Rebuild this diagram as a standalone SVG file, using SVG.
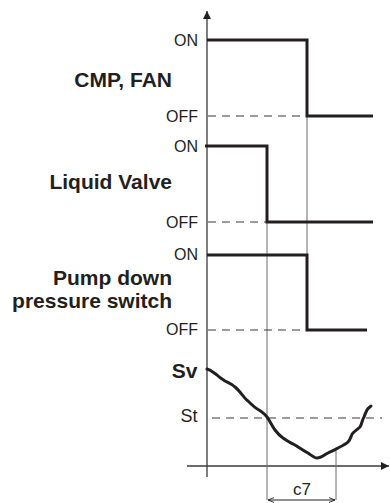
<svg xmlns="http://www.w3.org/2000/svg" width="390" height="503" viewBox="0 0 390 503">
<defs>
<style>
.lbl{font-family:"Liberation Sans",Arial,sans-serif;font-size:21px;font-weight:bold;fill:#231f20;text-anchor:end}
.lv{font-family:"Liberation Sans",Arial,sans-serif;font-size:16px;fill:#231f20;text-anchor:end}
.sig{fill:none;stroke:#231f20;stroke-width:3;stroke-linejoin:miter}
.thin{fill:none;stroke:#6d6d6d;stroke-width:1}
.axis{fill:none;stroke:#3a3a3a;stroke-width:1.3}
.dash{fill:none;stroke:#3a3a3a;stroke-width:1.2;stroke-dasharray:8 6}
</style>
<marker id="ah" viewBox="0 0 10 10" refX="10" refY="5" markerWidth="8" markerHeight="8" markerUnits="userSpaceOnUse" orient="auto">
<path d="M0,0 L10,5 L0,10 z" fill="#231f20"/>
</marker>
<marker id="dim" viewBox="0 0 10 10" refX="10" refY="5" markerWidth="7" markerHeight="6" markerUnits="userSpaceOnUse" orient="auto-start-reverse">
<path d="M0,1 L10,5 L0,9" fill="none" stroke="#231f20" stroke-width="1.5"/>
</marker>
</defs>
<rect width="390" height="503" fill="#ffffff"/>

<g id="axes">
<line class="axis" x1="207" y1="477" x2="207" y2="11" marker-end="url(#ah)"/>
<line class="axis" x1="187" y1="466" x2="389" y2="466" marker-end="url(#ah)"/>
</g>

<g id="guides">
<line class="thin" x1="307" y1="116" x2="307" y2="255"/>
<line class="thin" x1="267" y1="222" x2="267" y2="500"/>
<line class="thin" x1="336" y1="451" x2="336" y2="500"/>
</g>

<g id="cmp-fan">
<text class="lbl" x="172" y="87">CMP, FAN</text>
<text class="lv" x="198" y="45.5">ON</text>
<text class="lv" x="198" y="121.5">OFF</text>
<line class="dash" x1="208" y1="116" x2="307" y2="116"/>
<path class="sig" d="M207,40 H307 V116 H373"/>
</g>

<g id="liquid-valve">
<text class="lbl" x="172" y="188.5">Liquid Valve</text>
<text class="lv" x="198" y="151.5">ON</text>
<text class="lv" x="198" y="227.5">OFF</text>
<line class="dash" x1="208" y1="222" x2="267" y2="222"/>
<path class="sig" d="M205,146 H267 V222 H373"/>
</g>

<g id="pump-down">
<text class="lbl" x="172" y="285">Pump down</text>
<text class="lbl" x="172" y="308">pressure switch</text>
<text class="lv" x="198" y="260">ON</text>
<text class="lv" x="198" y="335">OFF</text>
<line class="dash" x1="208" y1="330" x2="307" y2="330"/>
<path class="sig" d="M207,255 H307 V330 H367"/>
</g>

<g id="sv">
<text class="lbl" x="197.5" y="378">Sv</text>
<text class="lv" x="197.5" y="421.5" style="font-size:18px">St</text>
<line class="dash" x1="212" y1="418" x2="382" y2="418"/>
<path fill="none" stroke="#231f20" stroke-width="3" stroke-linecap="round" stroke-linejoin="round" d="M207,369 C211,370 214,373 217,375 C220,378 222,379 225,381 C229,383 232,384 235,387 C240,391 244,398 248,401 C252,405 255,408 259,410 C262,412 265,414 267,417 C270,421 272,426 275,430 C278,434 280,436 283,438 C287,441 291,443 295,445 C300,448 304,451 308,453 C311,455 314,458 317,458 C321,458 324,455 328,453 C332,451 335,450 338,448 C342,446 346,444 348,442 C351,439 351,435 353,433 C356,430 358,429 360,427 C362,424 362,420 364,417 C365,414 366,412 367,410 C368,408 370,407 371,406"/>
</g>

<g id="c7">
<line x1="268" y1="500" x2="335" y2="500" stroke="#231f20" stroke-width="1.2" marker-start="url(#dim)" marker-end="url(#dim)"/>
<text x="302" y="494.5" style="font-family:'Liberation Sans',Arial,sans-serif;font-size:17px;fill:#231f20;text-anchor:middle">c7</text>
</g>
</svg>
